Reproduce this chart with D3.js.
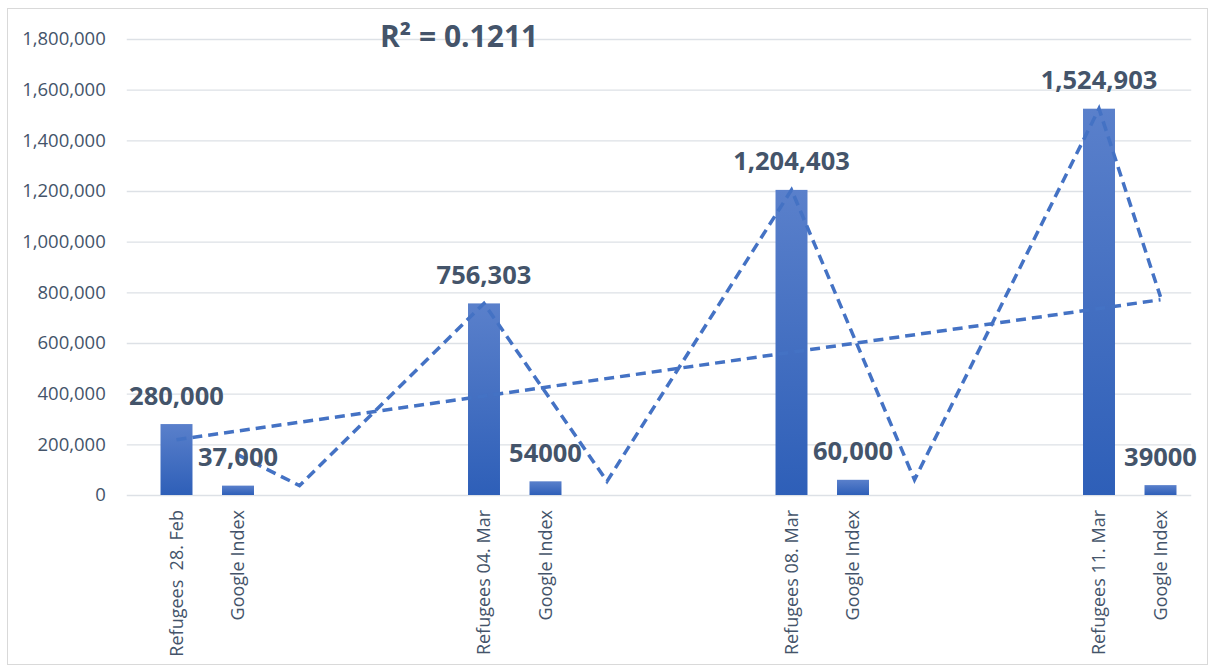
<!DOCTYPE html>
<html>
<head>
<meta charset="utf-8">
<script src="https://cdn.jsdelivr.net/npm/d3@7"></script>
<style>
  html, body { margin: 0; padding: 0; background: #ffffff; }
  svg { display: block; }
  text { font-family: "Open Sans", "Noto Sans", sans-serif; white-space: pre; }
</style>
</head>
<body>
<svg id="chart" width="1215" height="671"></svg>
<script>
// ---- data ----
const categories = [
  "Refugees  28. Feb", "Google Index", "", "", "",
  "Refugees 04. Mar", "Google Index", "", "", "",
  "Refugees 08. Mar", "Google Index", "", "", "",
  "Refugees 11. Mar", "Google Index"
];
const values = [
  280000, 37000, null, null, null,
  756303, 54000, null, null, null,
  1204403, 60000, null, null, null,
  1524903, 39000
];
const valueLabels = [
  "280,000", "37,000", "", "", "",
  "756,303", "54000", "", "", "",
  "1,204,403", "60,000", "", "", "",
  "1,524,903", "39000"
];
const yTicks = [0, 200000, 400000, 600000, 800000, 1000000, 1200000, 1400000, 1600000, 1800000];
const rSquaredLabel = "R² = 0.1211";

// ---- layout ----
const svg = d3.select("#chart");
const plot = { left: 145.75, right: 1191.25, top: 39, bottom: 495 };
const textColor = "#44546A";
const gridColor = "#dde1e6";
const lineColor = "#4472C4";

// chart border
svg.append("rect")
  .attr("x", 7.5).attr("y", 8.5)
  .attr("width", 1200).attr("height", 656)
  .attr("fill", "#ffffff").attr("stroke", "#d9d9d9").attr("stroke-width", 1);

const idx = categories.map((d, i) => i);
const x = d3.scaleBand().domain(idx).range([plot.left, plot.right])
  .paddingInner(0.48).paddingOuter(0.24);
const y = d3.scaleLinear().domain([0, 1800000]).range([plot.bottom, plot.top]);

// gradient for bars
const defs = svg.append("defs");
const grad = defs.append("linearGradient").attr("id", "barGrad")
  .attr("x1", 0).attr("y1", 0).attr("x2", 0).attr("y2", 1);
grad.append("stop").attr("offset", "0%").attr("stop-color", "#5a80cb");
grad.append("stop").attr("offset", "100%").attr("stop-color", "#2e5fb8");

// y axis (gridlines + labels)
const yAxis = d3.axisLeft(y)
  .tickValues(yTicks)
  .tickSize(-(plot.right - plot.left) - 19)
  .tickPadding(21)
  .tickFormat(d3.format(","));
const gy = svg.append("g")
  .attr("transform", `translate(${plot.left - 19},0)`)
  .call(yAxis);
gy.select(".domain").remove();
gy.selectAll(".tick line").attr("stroke", gridColor).attr("stroke-width", 1.3);
gy.selectAll(".tick text")
  .attr("fill", textColor)
  .style("font-size", "18.5px");

// x axis labels
const xAxis = d3.axisBottom(x).tickSize(0).tickFormat(i => categories[i]);
const gx = svg.append("g")
  .attr("transform", `translate(0,${plot.bottom})`)
  .call(xAxis);
gx.select(".domain").remove();
gx.selectAll(".tick text")
  .attr("fill", textColor)
  .style("font-size", "18px")
  .attr("text-anchor", "end")
  .attr("transform", "rotate(-90)")
  .attr("x", -15)
  .attr("y", 0)
  .attr("dy", "0.35em");

// bars
const barData = idx.filter(i => values[i] !== null);
svg.append("g").selectAll("rect")
  .data(barData)
  .join("rect")
  .attr("x", i => x(i))
  .attr("width", x.bandwidth())
  .attr("y", i => y(values[i]))
  .attr("height", i => y(0) - y(values[i]))
  .attr("fill", "url(#barGrad)");

// moving average trendline (period 2), as Excel computes it
const maPts = [];
for (let i = 1; i < values.length; i++) {
  const pair = [values[i - 1], values[i]].filter(v => v !== null);
  if (pair.length) maPts.push([i, d3.mean(pair)]);
}
// linear trendline (least squares on category index)
const pts = barData.map(i => [i, values[i]]);
const mx = d3.mean(pts, p => p[0]), my = d3.mean(pts, p => p[1]);
const slope = d3.sum(pts, p => (p[0] - mx) * (p[1] - my)) / d3.sum(pts, p => (p[0] - mx) ** 2);
const icpt = my - slope * mx;
const linPts = [0, values.length - 1].map(i => [i, icpt + slope * i]);

const cx = i => x(i) + x.bandwidth() / 2;
const line = d3.line().x(p => cx(p[0])).y(p => y(p[1]));
svg.append("path").datum(maPts).attr("d", line)
  .attr("fill", "none").attr("stroke", lineColor).attr("stroke-width", 3.5)
  .attr("stroke-dasharray", "10,6");
svg.append("path").datum(linPts).attr("d", line)
  .attr("fill", "none").attr("stroke", lineColor).attr("stroke-width", 3.5)
  .attr("stroke-dasharray", "10,6");

// data labels
svg.append("g").selectAll("text")
  .data(barData)
  .join("text")
  .attr("x", i => cx(i))
  .attr("y", i => y(values[i]) - 19.5)
  .attr("text-anchor", "middle")
  .attr("fill", textColor)
  .style("font-size", "25.5px")
  .style("font-weight", "700")
  .text(i => valueLabels[i]);

// R² label
svg.append("text")
  .attr("x", 380).attr("y", 47)
  .attr("fill", textColor)
  .style("font-size", "30px")
  .style("font-weight", "700")
  .text(rSquaredLabel);
</script>
</body>
</html>
